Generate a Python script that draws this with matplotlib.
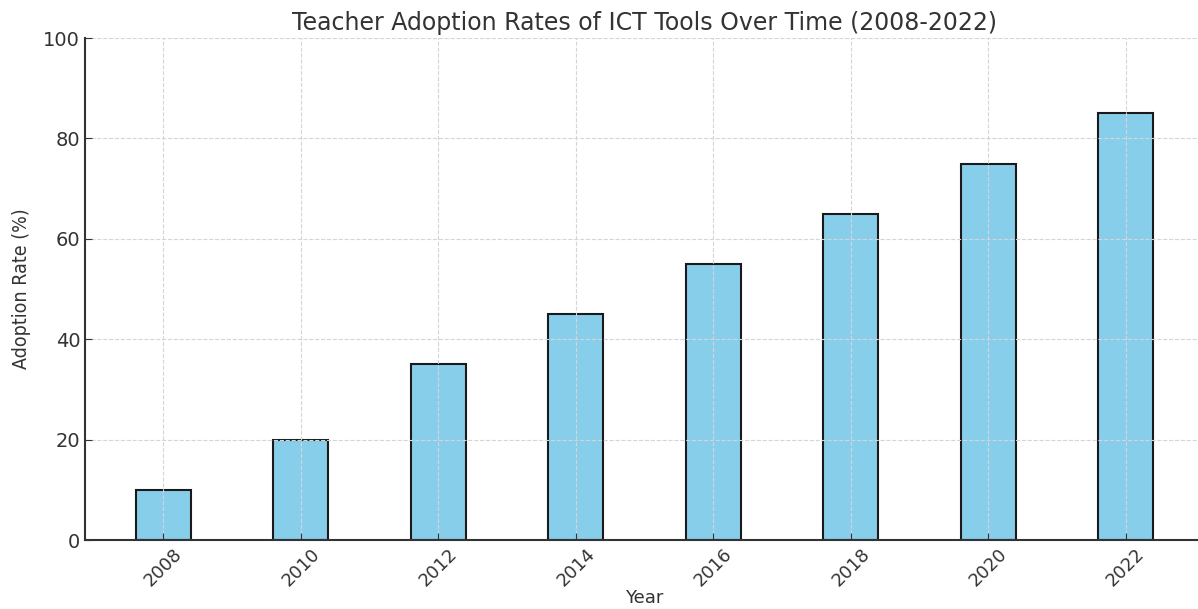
import numpy as np
import matplotlib
matplotlib.use('Agg')
import matplotlib.pyplot as plt

years = [2008, 2010, 2012, 2014, 2016, 2018, 2020, 2022]
adoption = [10, 20, 35, 45, 55, 65, 75, 85]

txt = '#333333'
fig = plt.figure(figsize=(11.98, 6.09), dpi=100)
ax = fig.add_axes([0.071, 0.1133, 0.934, 0.8243])

ax.bar(years, adoption, width=0.8, color='skyblue', edgecolor='#1a1a1a', linewidth=1.5)
ax.set_ylim(0, 100)
ax.set_xticks(years)
ax.set_xticklabels([str(y) for y in years], rotation=45)
ax.set_title('Teacher Adoption Rates of ICT Tools Over Time (2008-2022)', fontsize=17,
             color=txt, pad=6)
ax.set_xlabel('Year', fontsize=13, color=txt, labelpad=-1)
ax.set_ylabel('Adoption Rate (%)', fontsize=14, color=txt, fontstretch='condensed', labelpad=9)
ax.grid(True, linestyle='--', color='#d5d5d5', linewidth=0.8)
ax.tick_params(direction='in', length=5, labelsize=14, labelcolor=txt, color=txt)
ax.tick_params(axis='x', labelsize=13)
for s in ['top', 'right']:
    ax.spines[s].set_visible(False)
for s in ['left', 'bottom']:
    ax.spines[s].set_color(txt)
    ax.spines[s].set_linewidth(1.5)

fig.savefig('out.png', dpi=100)
